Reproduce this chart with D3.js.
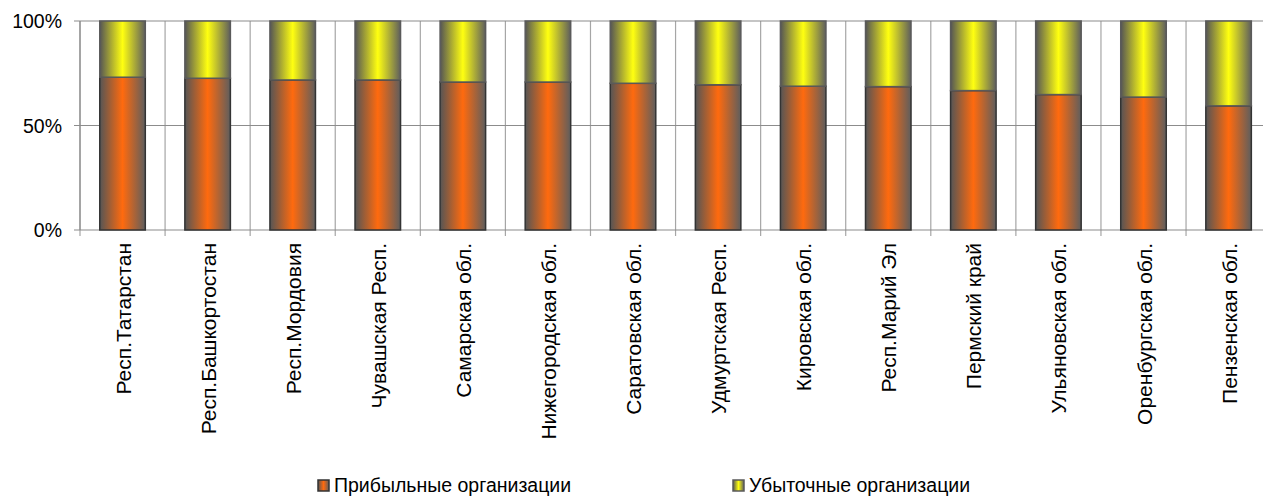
<!DOCTYPE html>
<html><head><meta charset="utf-8">
<script src="https://cdn.jsdelivr.net/npm/d3@7"></script>
<style>
html,body{margin:0;padding:0;background:#fff;overflow:hidden}
svg{display:block;font-family:"Liberation Sans",Arial,sans-serif}
</style></head>
<body>
<svg id="chart" width="1263" height="496"></svg>
<script>
const categories = ["Респ.Татарстан","Респ.Башкортостан","Респ.Мордовия","Чувашская Респ.","Самарская обл.","Нижегородская обл.","Саратовская обл.","Удмуртская Респ.","Кировская обл.","Респ.Марий Эл","Пермский край","Ульяновская обл.","Оренбургская обл.","Пензенская обл."];
const profitable = [73.1, 72.6, 71.8, 71.8, 70.8, 70.8, 70.2, 69.5, 68.8, 68.6, 66.7, 64.8, 63.6, 59.4];
const unprofitable = [26.9, 27.4, 28.2, 28.2, 29.2, 29.2, 29.8, 30.5, 31.2, 31.4, 33.3, 35.2, 36.4, 40.6];
const seriesNames = ["Прибыльные организации","Убыточные организации"];
const yTicks = [0, 50, 100];

(function () {
const svg = d3.select("#chart");
const pLeft = 80, pTop = 21, pBottom = 230, pRight = 80 + 14 * 85.08;

const x = d3.scaleBand().domain(categories).range([pLeft, pRight]).padding(0);
const y = d3.scaleLinear().domain([0, 100]).range([pBottom, pTop]);

const defs = svg.append("defs");
function grad(id, mid, edgeL, edgeR) {
  const g = defs.append("linearGradient").attr("id", id).attr("x1", "0").attr("x2", "1").attr("y1", "0").attr("y2", "0");
  g.append("stop").attr("offset", "0%").attr("stop-color", edgeL);
  g.append("stop").attr("offset", "50%").attr("stop-color", mid);
  g.append("stop").attr("offset", "100%").attr("stop-color", edgeR);
}
grad("gOrange", "#ff6a0e", "#555555", "#5e5e5e");
grad("gYellow", "#ffff10", "#555555", "#5e5e5e");

const bounds = categories.map(c => x(c)).concat([pRight]);
svg.append("g").selectAll("line").data(bounds).join("line")
  .attr("x1", d => d).attr("x2", d => d)
  .attr("y1", pTop).attr("y2", pBottom + 6)
  .attr("stroke", "#a6a6a6").attr("stroke-width", 1.2);

svg.append("g").selectAll("line").data(yTicks).join("line")
  .attr("x1", pLeft - 6).attr("x2", pRight)
  .attr("y1", d => y(d)).attr("y2", d => y(d))
  .attr("stroke", "#8c8c8c").attr("stroke-width", 1.2);

svg.append("line").attr("x1", pLeft).attr("x2", pLeft).attr("y1", pTop).attr("y2", pBottom)
  .attr("stroke", "#8c8c8c").attr("stroke-width", 1.2);

svg.append("g").selectAll("text").data(yTicks).join("text")
  .attr("x", 62).attr("y", d => y(d)).attr("dy", "0.36em")
  .attr("text-anchor", "end").attr("font-size", 19.5).attr("fill", "#000")
  .text(d => d + "%");

const bw = x.bandwidth() * 0.535;
const bars = svg.append("g");
bars.selectAll("rect.p").data(categories).join("rect").attr("class", "p")
  .attr("x", c => x(c) + (x.bandwidth() - bw) / 2)
  .attr("width", bw)
  .attr("y", (c, i) => y(profitable[i]))
  .attr("height", (c, i) => y(0) - y(profitable[i]))
  .attr("fill", "url(#gOrange)")
  .attr("stroke", "#333").attr("stroke-width", 1.5);
bars.selectAll("rect.u").data(categories).join("rect").attr("class", "u")
  .attr("x", c => x(c) + (x.bandwidth() - bw) / 2)
  .attr("width", bw)
  .attr("y", (c, i) => y(profitable[i] + unprofitable[i]))
  .attr("height", (c, i) => y(profitable[i]) - y(profitable[i] + unprofitable[i]))
  .attr("fill", "url(#gYellow)")
  .attr("stroke", "#5a5a5a").attr("stroke-width", 1.5);

svg.append("g").selectAll("text").data(categories).join("text")
  .attr("transform", c => `translate(${x(c) + x.bandwidth() / 2 + 0.5},243) rotate(-90)`)
  .attr("dy", "0.36em").attr("text-anchor", "end")
  .attr("font-size", 21).attr("fill", "#000")
  .text(c => c);

const legendX = [318, 733];
const lg = svg.append("g").selectAll("g").data(seriesNames).join("g")
  .attr("transform", (d, i) => `translate(${legendX[i]},480)`);
lg.append("rect").attr("width", 11).attr("height", 11)
  .attr("fill", (d, i) => i === 0 ? "url(#gOrange)" : "url(#gYellow)")
  .attr("stroke", (d, i) => i === 0 ? "#333" : "#5a5a5a").attr("stroke-width", 1.5);
lg.append("text").attr("x", 16).attr("y", 11.5)
  .attr("font-size", 19.5).attr("fill", "#000").text(d => d);
})();
</script>
</body></html>
